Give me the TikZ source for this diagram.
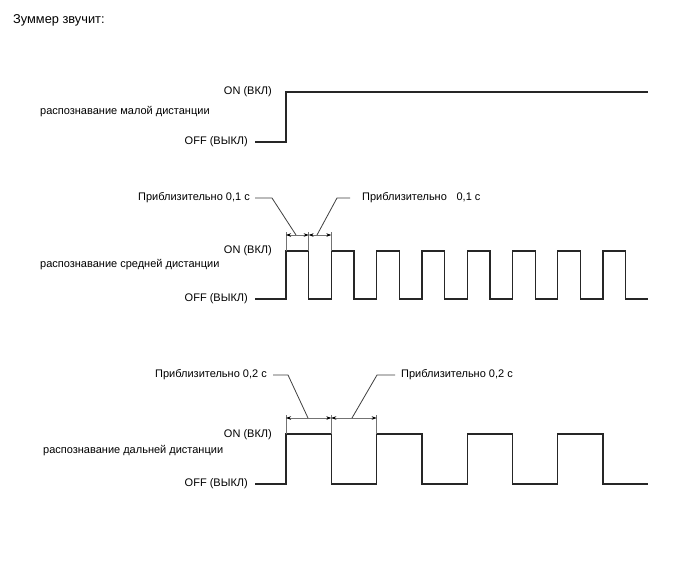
\documentclass[tikz,border=0pt]{standalone}
\usepackage{fontspec}
\setmainfont{Liberation Sans}
\usetikzlibrary{arrows.meta}
\begin{document}
\begin{tikzpicture}[x=1pt,y=-1pt,
  wave/.style={line width=1.3pt, draw=black!85, line join=miter},
  tick/.style={line width=0.6pt, draw=black!55},
  dim/.style={line width=0.6pt, draw=black!55, {Stealth[length=5pt,width=3.5pt,black]}-{Stealth[length=5pt,width=3.5pt,black]}},
  lead/.style={line width=0.8pt, draw=black!75},
  lbl/.style={font=\fontsize{11}{13}\selectfont, inner sep=0pt},
  ttl/.style={font=\fontsize{12.8}{15}\selectfont, inner sep=0pt}]
\useasboundingbox (0,0) rectangle (688,560);
\fill[white] (0,0) rectangle (688,560);

\node[ttl, anchor=west] (title) at (13,20) {Зуммер звучит:};

% Panel 1
\node[lbl, anchor=east] (on1) at (272,92) {ON (ВКЛ)};
\node[lbl, anchor=west] (name1) at (40,112) {распознавание малой дистанции};
\node[lbl, anchor=east] (off1) at (248,142) {OFF (ВЫКЛ)};
\coordinate (w1) at (255,142);
\draw[wave] (w1) -- (286,142) -- (286,92) -- (648,92);

% Panel 2
\node[lbl, anchor=east] (on2) at (272,251) {ON (ВКЛ)};
\node[lbl, anchor=west] (name2) at (40,265) {распознавание средней дистанции};
\node[lbl, anchor=east] (off2) at (248,299) {OFF (ВЫКЛ)};
\coordinate (w2) at (255,299);
\draw[wave] (w2) -- (286,299)
  foreach \k in {0,...,7} {
    -- ({286+2*\k*22.65},251) -- ({286+(2*\k+1)*22.65},251)
    -- ({286+(2*\k+1)*22.65},299) -- ({286+(2*\k+2)*22.65},299) };
\coordinate (a2) at (286,232);
\coordinate (b2) at (308.65,232);
\coordinate (c2) at (331.3,232);
\draw[tick] (a2) -- (286,251);
\draw[tick] (b2) -- (308.65,251);
\draw[tick] (c2) -- (331.3,251);
\draw[dim] (286,235) -- (308.65,235);
\draw[dim] (308.65,235) -- (331.3,235);
\node[lbl, anchor=east] (t21) at (250,198) {Приблизительно 0,1 с};
\node[lbl, anchor=west] (t22) at (362,198) {Приблизительно\hspace{0.6em} 0,1 с};
\draw[lead] (255,198) -- (272,198) -- (296,235);
\draw[lead] (350,198) -- (337,198) -- (317,235);

% Panel 3
\node[lbl, anchor=east] (on3) at (272,435) {ON (ВКЛ)};
\node[lbl, anchor=west] (name3) at (43,451) {распознавание дальней дистанции};
\node[lbl, anchor=east] (off3) at (248,484) {OFF (ВЫКЛ)};
\coordinate (w3) at (255,484);
\draw[wave] (w3) -- (286,484)
  foreach \k in {0,...,3} {
    -- ({286+2*\k*45.3},434) -- ({286+(2*\k+1)*45.3},434)
    -- ({286+(2*\k+1)*45.3},484) -- ({286+(2*\k+2)*45.3},484) };
\draw[tick] (286,415) -- (286,434);
\draw[tick] (331.3,415) -- (331.3,434);
\draw[tick] (376.6,415) -- (376.6,434);
\draw[dim] (286,418) -- (331.3,418);
\draw[dim] (331.3,418) -- (376.6,418);
\node[lbl, anchor=east] (t31) at (267,375) {Приблизительно 0,2 с};
\node[lbl, anchor=west] (t32) at (401,375) {Приблизительно 0,2 с};
\draw[lead] (273,375) -- (288,375) -- (308,418);
\draw[lead] (395,375) -- (377,375) -- (352,418);
\end{tikzpicture}
\end{document}
